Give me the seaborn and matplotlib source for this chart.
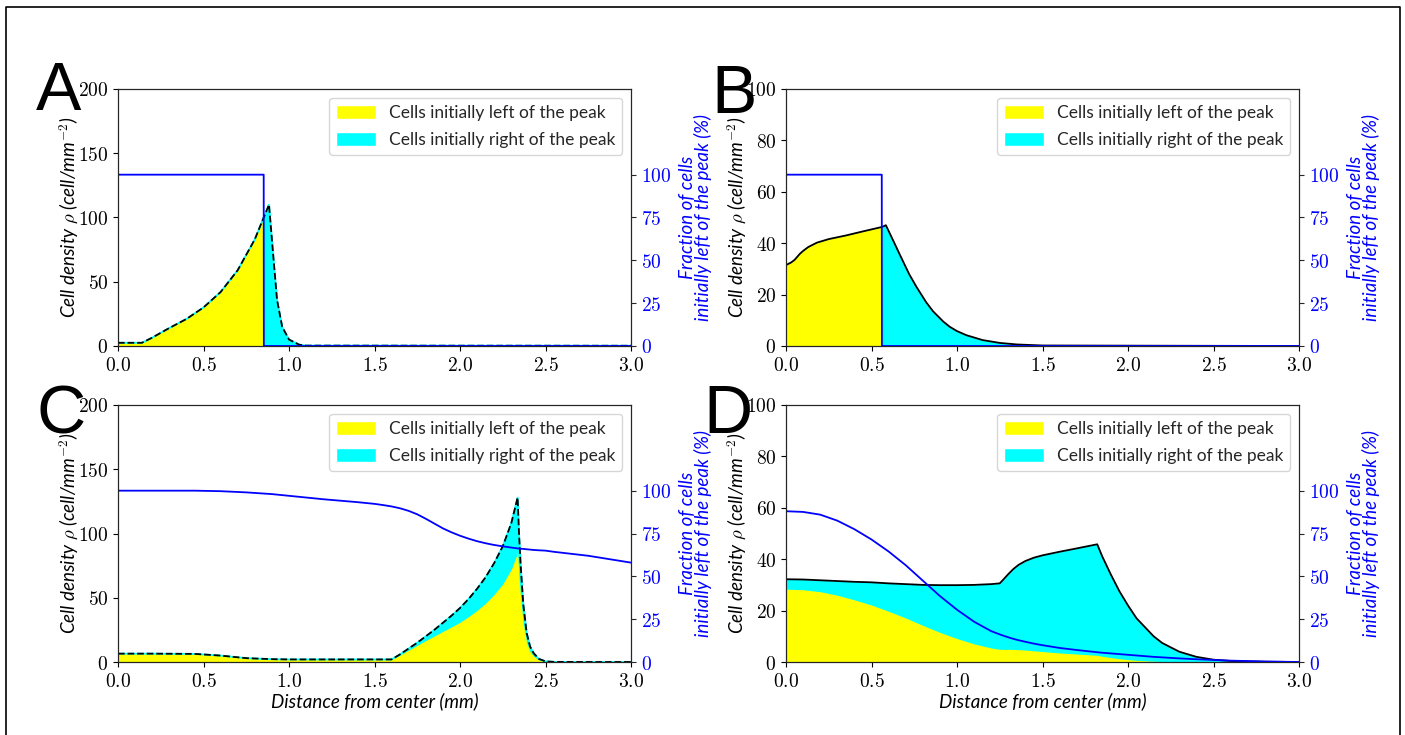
import numpy as np
import matplotlib
matplotlib.use('Agg')
import matplotlib.pyplot as plt
import seaborn as sns
from matplotlib.patches import Patch
from matplotlib.lines import Line2D
from matplotlib.ticker import FuncFormatter, MultipleLocator

# ---- data (distance in mm) ----
# panel A
xa = [0, 0.14, 0.2, 0.3, 0.4, 0.5, 0.6, 0.7, 0.8, 0.852, 0.853, 0.883, 0.91, 0.93, 0.96, 1.0, 1.06, 1.1, 3.0]
dens_a = [2.5, 2.5, 6.5, 14, 21, 30, 42, 59, 83, 100, 100.2, 110, 67, 36, 15, 5, 1, 0.3, 0.2]
frac_a = [100, 100, 100, 100, 100, 100, 100, 100, 100, 100, 0, 0, 0, 0, 0, 0, 0, 0, 0]

# panel B
xb = [0, 0.03, 0.05, 0.08, 0.1, 0.13, 0.18, 0.25, 0.35, 0.45, 0.56, 0.561, 0.584, 0.62, 0.666, 0.72,
      0.763, 0.82, 0.86, 0.92, 0.957, 1.0, 1.055, 1.15, 1.25, 1.35, 1.5, 3.0]
dens_b = [31.5, 32.5, 33.5, 35.8, 37, 38.5, 40.2, 41.6, 43, 44.6, 46.3, 46.3, 47, 42, 35.5, 28,
          23, 17, 13.5, 9.5, 7.5, 5.8, 4.2, 2.3, 1.2, 0.6, 0.2, 0]
frac_b = [100] * 11 + [0] * 17

# panel C
xc = [0, 0.2, 0.45, 0.6, 0.75, 0.9, 1.0, 1.2, 1.4, 1.5, 1.55, 1.6, 1.65, 1.7, 1.75, 1.8, 1.85, 1.9, 1.95,
      2.0, 2.05, 2.1, 2.15, 2.2, 2.25, 2.3, 2.337, 2.345, 2.355, 2.37, 2.39, 2.41, 2.43, 2.46, 2.5,
      2.55, 2.75, 3.0]
dens_c = [6.5, 6.5, 6.3, 5, 3, 2.2, 2, 2, 2, 2, 2, 2, 6, 10.5, 15, 20, 25, 30.5, 36,
          42, 49, 57, 66, 77, 90, 108, 128, 100, 75, 45, 22.5, 12, 7, 2.5, 0.5,
          0.1, 0, 0]
frac_c = [100, 100, 100, 99.7, 99, 98, 97, 95, 93.3, 92.3, 91.6, 90.8, 89.7, 88.2, 86.2, 83.6, 80.8, 78, 75.7,
          73.7, 72, 70.5, 69.3, 68.3, 67.5, 66.8, 66.3, 66.2, 66.1, 66, 65.8, 65.6, 65.4, 65.2, 65,
          64.3, 62, 58]

# panel D
xd = [0, 0.1, 0.2, 0.3, 0.4, 0.5, 0.6, 0.7, 0.8, 0.9, 1.0, 1.1, 1.2, 1.25, 1.27, 1.3, 1.33, 1.36,
      1.4, 1.45, 1.5, 1.6, 1.7, 1.82, 1.85, 1.9, 1.95, 2.0, 2.05, 2.1, 2.15, 2.2, 2.3, 2.4, 2.5,
      2.6, 2.8, 3.0]
dens_d = [32.2, 32.1, 31.8, 31.5, 31.2, 31, 30.6, 30.3, 30.0, 29.9, 29.9, 30.0, 30.3, 30.6, 32, 34.2,
          36.2, 37.8, 39.3, 40.6, 41.5, 42.9, 44.2, 45.8, 41, 34, 27.5, 22, 17, 13.5, 10, 7.4, 4, 2, 0.9,
          0.4, 0.1, 0]
frac_d = [88, 87.6, 86, 82.5, 77.5, 71.5, 64.5, 56.5, 47.5, 38.5, 30.5, 23.5, 18, 16.1, 15.4, 14.4, 13.5, 12.7,
          11.8, 10.7, 9.8, 8.2, 7, 5.7, 5.4, 5, 4.6, 4.2, 3.8, 3.4, 3.0, 2.7, 2.1, 1.6, 1.2,
          0.8, 0.3, 0]

leg_labels = ['Cells initially left of the peak', 'Cells initially right of the peak']
ylab = r'Cell density $\rho$ (cell/mm$^{-2}$)'
ylab2 = 'Fraction of cells\ninitially left of the peak (%)'
xlab = 'Distance from center (mm)'

sns.set_style('ticks')
plt.rcParams['font.family'] = ['Lato', 'DejaVu Sans']
plt.rcParams['mathtext.fontset'] = 'cm'

W, H = 1405, 735
fig = plt.figure(figsize=(W / 100, H / 100), dpi=100)

panels = [
    ('A', xa, dens_a, frac_a, 200, True, 118, 346, 36, 110, False),
    ('B', xb, dens_b, frac_b, 100, False, 786, 346, 711, 113, False),
    ('C', xc, dens_c, frac_c, 200, True, 118, 662, 37, 433, True),
    ('D', xd, dens_d, frac_d, 100, False, 786, 662, 703, 433, True),
]

for letter, x, dens, frac, ymax, dashed, px, py, lx, ly, show_xlab in panels:
    x = np.array(x)
    dens = np.array(dens)
    frac = np.array(frac)
    ax = fig.add_axes([px / W, 1 - py / H, 513 / W, 257 / H])
    ax.fill_between(x, 0, dens, color='cyan', lw=0)
    ax.fill_between(x, 0, dens * frac / 100, color='yellow', lw=0)
    if dashed:
        sns.lineplot(x=x, y=dens, ax=ax, color='cyan', lw=1.3, estimator=None, sort=False)
        sns.lineplot(x=x, y=dens, ax=ax, color='black', lw=1.3, ls='--', estimator=None, sort=False)
    else:
        sns.lineplot(x=x, y=dens, ax=ax, color='black', lw=1.3, estimator=None, sort=False)
    ax.set_xlim(0, 3)
    ax.set_ylim(0, ymax)
    ax.xaxis.set_major_locator(MultipleLocator(0.5))
    ax.yaxis.set_major_locator(MultipleLocator(50 if ymax == 200 else 20))
    ax.xaxis.set_major_formatter(FuncFormatter(lambda v, p: f'${v:.1f}$'))
    ax.yaxis.set_major_formatter(FuncFormatter(lambda v, p: f'${v:.0f}$'))
    ax.tick_params(labelsize=14, colors='black')
    ax.set_ylabel(ylab, fontsize=13.5, style='italic', color='black', labelpad=-2)
    if show_xlab:
        ax.set_xlabel(xlab, fontsize=13.5, style='italic', color='black', labelpad=2)
    else:
        ax.set_xlabel('')
    for s in ax.spines.values():
        s.set_color('black')
    handles = [Patch(facecolor='yellow', label=leg_labels[0]),
               Patch(facecolor='cyan', label=leg_labels[1])]
    ax.legend(handles=handles, loc='upper right', fontsize=12.5, handlelength=2.3,
              handleheight=0.85, handletextpad=0.75, labelspacing=0.65)

    ax2 = ax.twinx()
    sns.lineplot(x=x, y=frac, ax=ax2, color='blue', lw=1.3, estimator=None, sort=False)
    ax2.set_ylim(0, 150)
    ax2.set_yticks([0, 25, 50, 75, 100])
    ax2.yaxis.set_major_formatter(FuncFormatter(lambda v, p: f'${v:.0f}$'))
    ax2.tick_params(axis='y', labelsize=14, labelcolor='blue')
    ax2.set_ylabel(ylab2, fontsize=13.5, style='italic', color='blue', linespacing=0.8, labelpad=6)
    ax2.set_xlabel('')

    fig.text(lx / W, 1 - ly / H, letter, fontsize=49, family='Liberation Sans',
             color='black', ha='left', va='baseline')

# thin frame round the figure (bottom edge is cut off in the reference)
fig.add_artist(Line2D([5.5 / W, 5.5 / W, 1399.5 / W, 1399.5 / W],
                      [0, 1 - 6.5 / H, 1 - 6.5 / H, 0],
                      transform=fig.transFigure, color='black', lw=1.2))

fig.savefig('out.png', dpi=100)
